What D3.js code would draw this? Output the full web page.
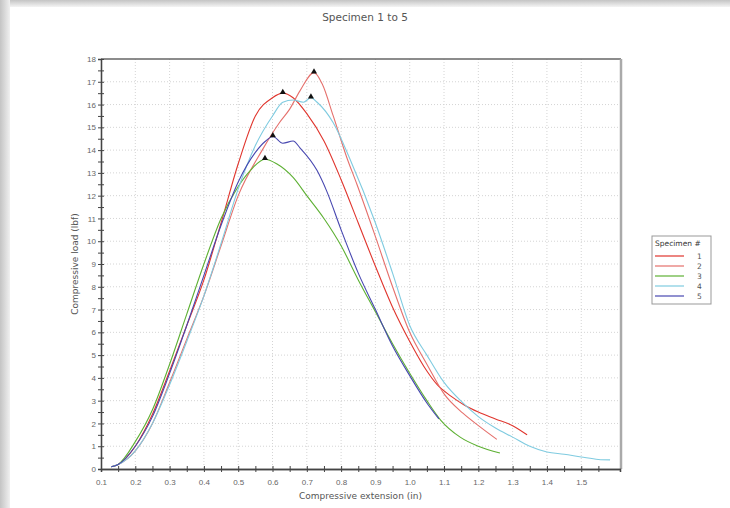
<!DOCTYPE html>
<html>
<head>
<meta charset="utf-8">
<script src="https://cdn.jsdelivr.net/npm/d3@7.9.0/dist/d3.min.js"></script>
<style>
  html, body { margin: 0; padding: 0; background: #fff; }
  svg { display: block; font-family: "DejaVu Sans", Verdana, sans-serif; }
</style>
</head>
<body>
<svg id="chart" width="730" height="508"></svg>
<script>
// data (extension in, load lbf)
const specimens = ['1', '2', '3', '4', '5'];
const colors = ['#e0352d', '#e5706c', '#5db033', '#7fcbe0', '#4747b0'];

const x1 = [0.13,0.15,0.2,0.25,0.3,0.35,0.4,0.45,0.5,0.55,0.6,0.63,0.66,0.7,0.75,0.8,0.85,0.9,0.95,1.0,1.05,1.08,1.12,1.16,1.2,1.25,1.3,1.342];
const y1 = [0.1,0.2,1.0,2.4,4.3,6.3,8.3,10.8,13.4,15.5,16.3,16.5,16.3,15.6,14.4,12.7,10.8,8.9,7.1,5.6,4.3,3.7,3.2,2.8,2.5,2.2,1.9,1.5];

const x2 = [0.13,0.15,0.2,0.25,0.3,0.35,0.4,0.45,0.5,0.57,0.62,0.65,0.68,0.721,0.745,0.777,0.816,0.846,0.9,0.95,1.0,1.05,1.1,1.155,1.205,1.254];
const y2 = [0.1,0.2,0.8,2.0,3.8,5.7,7.6,9.8,12.0,14.0,15.2,15.8,16.6,17.4,16.9,15.5,13.7,12.5,10.2,8.0,6.0,4.6,3.3,2.45,1.85,1.3];

const x3 = [0.13,0.15,0.2,0.25,0.3,0.35,0.4,0.45,0.5,0.535,0.578,0.612,0.66,0.7,0.75,0.8,0.85,0.9,0.95,1.0,1.05,1.09,1.147,1.2,1.263];
const y3 = [0.1,0.2,1.2,2.6,4.6,6.8,9.0,11.0,12.4,13.1,13.6,13.4,12.8,12.0,11.0,9.8,8.3,6.9,5.5,4.2,3.0,2.15,1.4,1.0,0.7];

const x4 = [0.13,0.15,0.2,0.25,0.3,0.35,0.4,0.45,0.5,0.55,0.6,0.63,0.66,0.69,0.712,0.73,0.777,0.826,0.9,0.95,1.0,1.05,1.1,1.155,1.2,1.25,1.3,1.35,1.4,1.45,1.5,1.55,1.584];
const y4 = [0.1,0.2,0.8,2.0,3.7,5.6,7.6,9.9,12.3,14.2,15.5,16.1,16.2,16.1,16.3,16.1,15.2,13.6,10.8,8.6,6.3,5.0,3.8,2.9,2.3,1.8,1.4,1.0,0.75,0.65,0.53,0.42,0.4];

const x5 = [0.13,0.15,0.2,0.25,0.3,0.35,0.4,0.45,0.5,0.55,0.58,0.601,0.63,0.66,0.68,0.73,0.758,0.8,0.85,0.9,0.95,1.0,1.05,1.085];
const y5 = [0.1,0.2,1.0,2.3,4.2,6.3,8.5,10.7,12.6,13.9,14.4,14.6,14.3,14.4,14.1,13.1,12.2,10.5,8.6,7.0,5.4,4.1,2.9,2.2];

const xs = [x1, x2, x3, x4, x5];
const ys = [y1, y2, y3, y4, y5];

const xTicks = [0.1,0.2,0.3,0.4,0.5,0.6,0.7,0.8,0.9,1.0,1.1,1.2,1.3,1.4,1.5];
const yTicks = d3.range(0, 19);

const svg = d3.select('#chart');

// soft grey shadow on top and left edges
const defs = svg.append('defs');
const gTop = defs.append('linearGradient').attr('id', 'shTop').attr('x1', 0).attr('y1', 0).attr('x2', 0).attr('y2', 1);
gTop.append('stop').attr('offset', 0).attr('stop-color', '#c4c4c4');
gTop.append('stop').attr('offset', 1).attr('stop-color', '#f4f4f4');
const gLeft = defs.append('linearGradient').attr('id', 'shLeft').attr('x1', 0).attr('y1', 0).attr('x2', 1).attr('y2', 0);
gLeft.append('stop').attr('offset', 0).attr('stop-color', '#c4c4c4');
gLeft.append('stop').attr('offset', 1).attr('stop-color', '#f0f0f0');
svg.append('rect').attr('x', 0).attr('y', 0).attr('width', 730).attr('height', 7).attr('fill', 'url(#shTop)');
svg.append('rect').attr('x', 0).attr('y', 0).attr('width', 10).attr('height', 508).attr('fill', 'url(#shLeft)');

const mLeft = 101, mRight = 620, mTop = 59, mBottom = 469;

const x = d3.scaleLinear().domain([0.1, 1.613]).range([mLeft, mRight]);
const y = d3.scaleLinear().domain([0, 18]).range([mBottom, mTop]);

// grid
const grid = svg.append('g').attr('stroke', '#d4d4d4').attr('stroke-dasharray', '1,2');
xTicks.slice(1).forEach(t => {
  grid.append('line').attr('x1', x(t)).attr('x2', x(t)).attr('y1', mTop).attr('y2', mBottom);
});
yTicks.slice(1, -1).forEach(t => {
  grid.append('line').attr('x1', mLeft).attr('x2', mRight).attr('y1', y(t)).attr('y2', y(t));
});

// frame top/right
svg.append('line').attr('x1', mLeft).attr('x2', mRight + 1).attr('y1', mTop).attr('y2', mTop).attr('stroke', '#666').attr('stroke-width', 1.5);
svg.append('line').attr('x1', mRight + 1).attr('x2', mRight + 1).attr('y1', mTop).attr('y2', mBottom).attr('stroke', '#aaa').attr('stroke-width', 2.5);

// axes
const xAxis = svg.append('g').attr('transform', `translate(0,${mBottom})`)
  .call(d3.axisBottom(x).tickValues(xTicks).tickFormat(d3.format('.1f')).tickSize(3).tickPadding(7));
const xMinor = svg.append('g').attr('transform', `translate(0,${mBottom})`)
  .call(d3.axisBottom(x).tickValues(d3.range(0.15, 1.6, 0.1)).tickFormat('').tickSize(3));
const yAxis = svg.append('g').attr('transform', `translate(${mLeft},0)`)
  .call(d3.axisLeft(y).tickValues(yTicks).tickSize(3).tickPadding(2));
const yMinor = svg.append('g').attr('transform', `translate(${mLeft},0)`)
  .call(d3.axisLeft(y).tickValues(d3.range(0.5, 18, 1)).tickFormat('').tickSize(0));

[xAxis, xMinor, yAxis, yMinor].forEach(a => {
  a.select('.domain').attr('stroke', '#444').attr('stroke-width', 1.3);
  a.selectAll('.tick line').attr('stroke', '#444');
  a.selectAll('.tick text').attr('fill', '#666').style('font-size', '8px');
});
// ticks cross the axis line
yAxis.selectAll('.tick line').attr('x1', 3);
yMinor.selectAll('.tick line').attr('x1', -3).attr('x2', 3);
xAxis.selectAll('.tick line').attr('y1', -3);
xMinor.selectAll('.tick line').attr('y1', -3);

// curves
const line = d3.line().curve(d3.curveMonotoneX).x(d => x(d[0])).y(d => y(d[1]));
specimens.forEach((s, i) => {
  const pts = xs[i].map((v, j) => [v, ys[i][j]]);
  svg.append('path').datum(pts)
    .attr('d', line)
    .attr('fill', 'none')
    .attr('stroke', colors[i])
    .attr('stroke-width', 1.1);
});

// peak markers
specimens.forEach((s, i) => {
  const k = d3.maxIndex(ys[i]);
  const px = x(xs[i][k]), py = y(ys[i][k]);
  svg.append('path')
    .attr('d', d3.symbol(d3.symbolTriangle, 16)())
    .attr('transform', `translate(${px},${py - 1})`)
    .attr('fill', '#111');
});

// titles
svg.append('text').attr('x', 365).attr('y', 21).attr('text-anchor', 'middle')
  .style('font-size', '10.5px').attr('fill', '#555').text('Specimen 1 to 5');
svg.append('text').attr('x', (mLeft + mRight) / 2).attr('y', 499).attr('text-anchor', 'middle')
  .style('font-size', '9px').attr('fill', '#555').text('Compressive extension (in)');
svg.append('text').attr('transform', `translate(78,${(mTop + mBottom) / 2}) rotate(-90)`).attr('text-anchor', 'middle')
  .style('font-size', '9px').attr('fill', '#555').text('Compressive load (lbf)');

// legend
const lg = svg.append('g').attr('transform', 'translate(652,236)');
lg.append('rect').attr('width', 59).attr('height', 68).attr('fill', '#fff').attr('stroke', '#999');
lg.append('text').attr('x', 3).attr('y', 10).style('font-size', '7.5px').attr('fill', '#333').text('Specimen #');
specimens.forEach((s, i) => {
  const yy = 20 + i * 10;
  lg.append('line').attr('x1', 3).attr('x2', 32).attr('y1', yy).attr('y2', yy)
    .attr('stroke', colors[i]).attr('stroke-width', 1.2);
  lg.append('text').attr('x', 45).attr('y', yy + 3).style('font-size', '7.5px').attr('fill', '#555').text(s);
});
</script>
</body>
</html>
